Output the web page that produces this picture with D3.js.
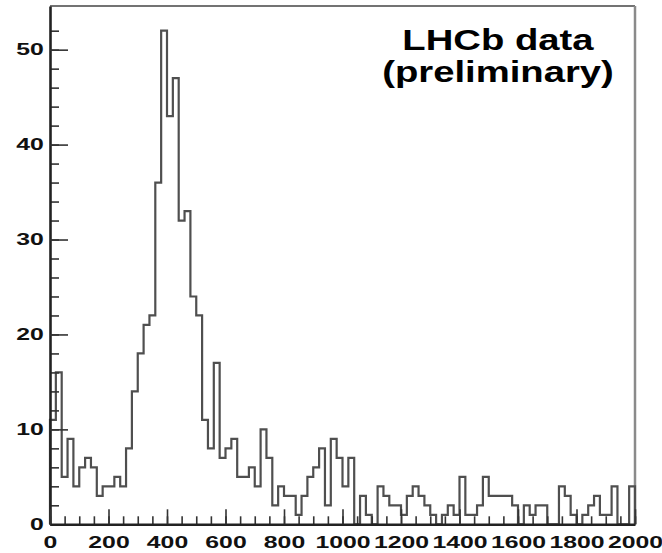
<!DOCTYPE html>
<html>
<head>
<meta charset="utf-8">
<script src="https://cdn.jsdelivr.net/npm/d3@7"></script>
<style>
  html, body { margin: 0; padding: 0; background: #fff; }
  svg { display: block; }
  .tick text { font-family: "Liberation Sans", Arial, Helvetica, sans-serif; font-weight: bold; font-size: 16px; fill: #111; }
  .note { font-family: "Liberation Sans", Arial, Helvetica, sans-serif; font-weight: bold; font-size: 29px; fill: #000; }
</style>
</head>
<body>
<svg id="chart" width="662" height="553"></svg>
<script>
// Histogram: 100 bins of width 20 from 0 to 2000
const binLow = 0;
const binHigh = 2000;
const binWidth = 20;
const counts = [
  11, 16, 5, 9, 4, 6, 7, 6, 3, 4,
  4, 5, 4, 8, 14, 18, 21, 22, 36, 52,
  43, 47, 32, 33, 24, 22, 11, 8, 17, 7,
  8, 9, 5, 5, 6, 4, 10, 7, 2, 4,
  3, 3, 1, 3, 5, 6, 8, 2, 9, 7,
  4, 7, 0, 3, 1, 0, 4, 3, 2, 2,
  1, 3, 4, 3, 2, 1, 0, 1, 2, 1,
  5, 1, 1, 2, 5, 3, 3, 3, 3, 2,
  0, 2, 1, 2, 2, 0, 0, 4, 3, 1,
  0, 1, 2, 3, 1, 1, 4, 0, 0, 4
];
const xTickLabels = [0, 200, 400, 600, 800, 1000, 1200, 1400, 1600, 1800, 2000];
const xMinorTicks = d3.range(0, 2001, 50);
const yTickLabels = [0, 10, 20, 30, 40, 50];
const yMinorTicks = d3.range(0, 53, 2);
const noteLines = ["LHCb data", "(preliminary)"];

const svg = d3.select("#chart");
const frame = { left: 50, right: 635, top: 6, bottom: 524.3 };

const yMax = d3.max(counts) * 1.05;
const x = d3.scaleLinear().domain([binLow, binHigh]).range([frame.left, frame.right]);
const y = d3.scaleLinear().domain([0, yMax]).range([frame.bottom, frame.top]);

// soft edge for the histogram outline
svg.append("defs").append("filter")
  .attr("id", "soft")
  .append("feGaussianBlur").attr("stdDeviation", 0.45);

// frame: top and right edges
svg.append("line")
  .attr("x1", frame.left).attr("x2", frame.right)
  .attr("y1", frame.top).attr("y2", frame.top)
  .attr("stroke", "#444").attr("stroke-width", 1.6);
svg.append("line")
  .attr("x1", frame.right).attr("x2", frame.right)
  .attr("y1", frame.top).attr("y2", frame.bottom)
  .attr("stroke", "#8a8a8a").attr("stroke-width", 2.5);

// step outline of the histogram
const pts = [[x(binLow), y(0)]];
counts.forEach((c, i) => {
  const lo = binLow + i * binWidth;
  pts.push([x(lo), y(c)]);
  pts.push([x(lo + binWidth), y(c)]);
});
pts.push([x(binHigh), y(0)]);
svg.append("path")
  .attr("d", d3.line()(pts))
  .attr("fill", "none")
  .attr("stroke", "#505050")
  .attr("stroke-width", 2.2)
  .attr("stroke-linejoin", "miter")
  .attr("filter", "url(#soft)");

// y axis: minor ticks, then major ticks with labels
svg.append("g")
  .attr("transform", `translate(${frame.left},0)`)
  .call(d3.axisLeft(y).tickValues(yMinorTicks).tickSizeInner(-9).tickSizeOuter(0).tickFormat(""))
  .call(g => g.select(".domain").remove())
  .call(g => g.selectAll("line").attr("stroke", "#333").attr("stroke-width", 1.6));

const yAxis = svg.append("g")
  .attr("transform", `translate(${frame.left},0)`)
  .call(d3.axisLeft(y).tickValues(yTickLabels).tickSizeInner(-18).tickSizeOuter(0).tickPadding(4).tickFormat(d3.format("d")));
yAxis.select(".domain").attr("stroke", "#222").attr("stroke-width", 2.6);
yAxis.selectAll("line").attr("stroke", "#333").attr("stroke-width", 1.6);
yAxis.selectAll("text").attr("transform", "scale(1.55,1)");

// x axis: minor ticks, then major ticks with labels
svg.append("g")
  .attr("transform", `translate(0,${frame.bottom})`)
  .call(d3.axisBottom(x).tickValues(xMinorTicks).tickSizeInner(-8).tickSizeOuter(0).tickFormat(""))
  .call(g => g.select(".domain").remove())
  .call(g => g.selectAll("line").attr("stroke", "#333").attr("stroke-width", 1.6));

const xAxis = svg.append("g")
  .attr("transform", `translate(0,${frame.bottom})`)
  .call(d3.axisBottom(x).tickValues(xTickLabels).tickSizeInner(-15).tickSizeOuter(0).tickPadding(12.5).tickFormat(d3.format("d")));
xAxis.select(".domain").attr("stroke", "#222").attr("stroke-width", 2.6);
xAxis.selectAll("line").attr("stroke", "#333").attr("stroke-width", 1.6);
xAxis.selectAll("text").attr("transform", "scale(1.55,1)");

// annotation
noteLines.forEach((t, i) => {
  svg.append("text")
    .attr("class", "note")
    .attr("text-anchor", "middle")
    .attr("transform", `translate(498,${50 + i * 32}) scale(1.32,1)`)
    .text(t);
});
</script>
</body>
</html>
